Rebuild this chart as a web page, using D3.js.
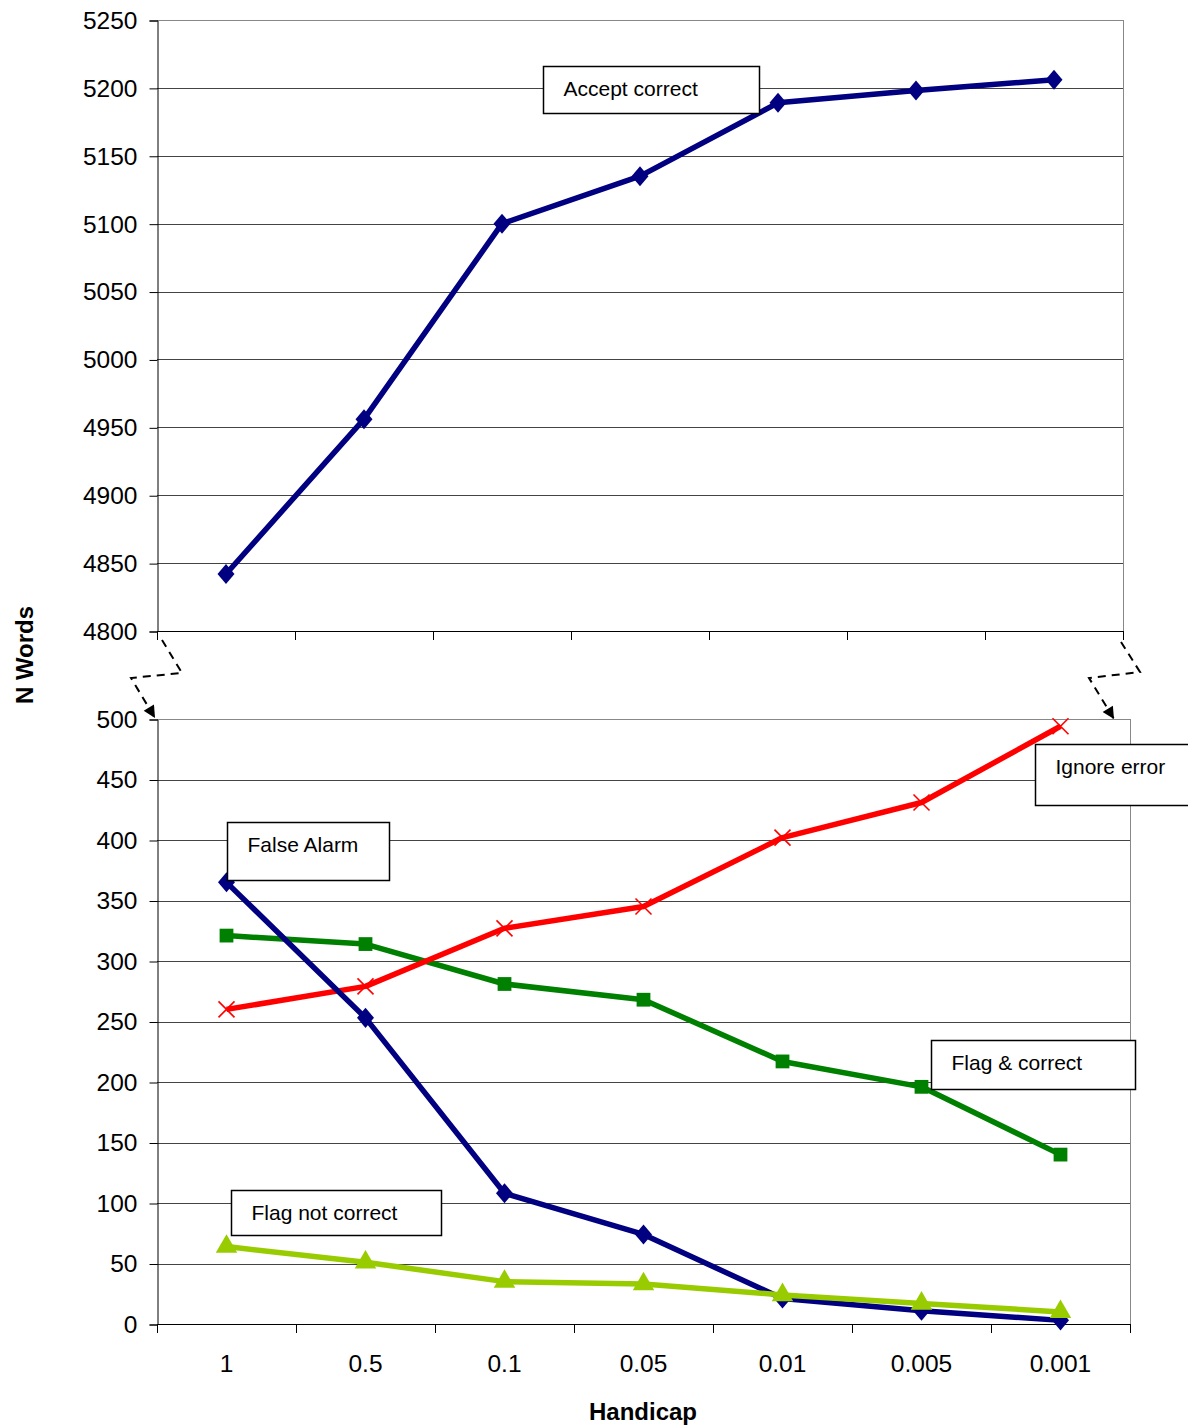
<!DOCTYPE html>
<html>
<head>
<meta charset="utf-8">
<script src="https://cdn.jsdelivr.net/npm/d3@7"></script>
<style>
 body { margin: 0; background: #fff; }
 text { font-family: "Liberation Sans", Arial, sans-serif; }
</style>
</head>
<body>
<div id="chart"></div>
<script>
// categories (handicap values)
var handicaps = ['1', '0.5', '0.1', '0.05', '0.01', '0.005', '0.001'];

// series values
var acceptCorrect   = [4842, 4956, 5100, 5135, 5189, 5198, 5206];
var falseAlarm      = [365, 253, 108, 74, 21, 11, 3];
var flagCorrect     = [321, 314, 281, 268, 217, 196, 140];
var ignoreError     = [260, 279, 327, 345, 402, 431, 494];
var flagNotCorrect  = [64, 51, 35, 33, 24, 17, 10];

// tick labels
var topTicks = [4800, 4850, 4900, 4950, 5000, 5050, 5100, 5150, 5200, 5250];
var bottomTicks = [0, 50, 100, 150, 200, 250, 300, 350, 400, 450, 500];

var W = 1188, H = 1428;
var svg = d3.select('#chart').append('svg')
 .attr('width', W).attr('height', H);

// two panels: top (broken axis, large values) and bottom (small values)
var topP = {left: 157, right: 1123, top: 20, bottom: 631};
var botP = {left: 157, right: 1130, top: 719, bottom: 1324};

var xTop = d3.scaleBand().domain(handicaps).range([topP.left, topP.right]);
var xBot = d3.scaleBand().domain(handicaps).range([botP.left, botP.right]);
var yTop = d3.scaleLinear().domain([4800, 5250]).range([topP.bottom, topP.top]);
var yBot = d3.scaleLinear().domain([0, 500]).range([botP.bottom, botP.top]);

function drawFrame(p, x, y, ticks)
{
 var g = svg.append('g');
 // gridlines
 g.selectAll('line.grid').data(ticks).enter().append('line')
  .attr('x1', p.left).attr('x2', p.right)
  .attr('y1', function(d){ return Math.round(y(d)) + 0.5; })
  .attr('y2', function(d){ return Math.round(y(d)) + 0.5; })
  .attr('stroke', function(d, i){ return i == ticks.length - 1 ? '#888' : '#444'; })
  .attr('stroke-width', 1);
 // right border
 g.append('line').attr('x1', p.right + 0.5).attr('x2', p.right + 0.5)
  .attr('y1', p.top).attr('y2', p.bottom).attr('stroke', '#888');
 // y axis
 var ya = svg.append('g').attr('transform', 'translate(' + (p.left + 0.5) + ',0.5)')
  .call(d3.axisLeft(y).tickValues(ticks).tickSize(8).tickPadding(12).tickFormat(d3.format('d')));
 ya.selectAll('text').style('font-size', '24.5px').attr('fill', '#000');
 ya.selectAll('line,path').attr('stroke', '#000');
 // x axis: tick marks at band edges
 var edges = x.domain().map(function(d){ return x(d); }).concat([p.right]);
 g.append('line').attr('x1', p.left).attr('x2', p.right)
  .attr('y1', p.bottom + 0.5).attr('y2', p.bottom + 0.5).attr('stroke', '#000');
 g.selectAll('line.xt').data(edges).enter().append('line')
  .attr('x1', function(d){ return Math.round(d) + 0.5; })
  .attr('x2', function(d){ return Math.round(d) + 0.5; })
  .attr('y1', p.bottom).attr('y2', p.bottom + 9).attr('stroke', '#000');
}

drawFrame(topP, xTop, yTop, topTicks);
drawFrame(botP, xBot, yBot, bottomTicks);

// x tick labels under bottom panel
svg.append('g').selectAll('text').data(handicaps).enter().append('text')
 .attr('x', function(d){ return xBot(d) + xBot.bandwidth() / 2; })
 .attr('y', 1372)
 .attr('text-anchor', 'middle')
 .style('font-size', '24.5px')
 .text(function(d){ return d; });

// axis titles
svg.append('text').attr('x', 643).attr('y', 1420).attr('text-anchor', 'middle')
 .style('font-size', '24px').style('font-weight', 'bold').text('Handicap');
svg.append('text').attr('transform', 'translate(33,655) rotate(-90)').attr('text-anchor', 'middle')
 .style('font-size', '24px').style('font-weight', 'bold').text('N Words');

// axis break marks (dashed lines with arrow)
svg.append('defs').append('marker').attr('id', 'arr')
 .attr('viewBox', '0 0 10 10').attr('refX', 10).attr('refY', 5)
 .attr('markerWidth', 7).attr('markerHeight', 6).attr('orient', 'auto')
 .append('path').attr('d', 'M0,0L10,5L0,10Z').attr('fill', '#000');
var breaks = [
 [[162, 640], [182, 673], [131, 678], [155, 718]],
 [[1121, 642], [1140, 672], [1089, 678], [1114, 719]]
];
svg.selectAll('path.brk').data(breaks).enter().append('path')
 .attr('d', d3.line())
 .attr('fill', 'none').attr('stroke', '#000').attr('stroke-width', 2)
 .attr('stroke-dasharray', '8,6')
 .attr('marker-end', 'url(#arr)');

// series
function drawSeries(vals, x, y, color, shape, size)
{
 var pts = vals.map(function(v, i){ return [x(handicaps[i]) + x.bandwidth() / 2, y(v)]; });
 svg.append('path').datum(pts).attr('d', d3.line())
  .attr('fill', 'none').attr('stroke', color).attr('stroke-width', 5.5)
  .attr('stroke-linejoin', 'round');
 var g = svg.append('g');
 if(shape == 'x')
 {
  pts.forEach(function(p){
   g.append('path').attr('d', 'M' + (p[0]-8) + ',' + (p[1]-8) + 'L' + (p[0]+8) + ',' + (p[1]+8) +
    'M' + (p[0]-8) + ',' + (p[1]+8) + 'L' + (p[0]+8) + ',' + (p[1]-8))
    .attr('stroke', color).attr('stroke-width', 1.6);
  });
 }
 else
 {
  var sym = d3.symbol().type(shape).size(size);
  g.selectAll('path').data(pts).enter().append('path')
   .attr('d', sym)
   .attr('transform', function(p){ return 'translate(' + p[0] + ',' + p[1] + ')' + (shape == d3.symbolDiamond ? ' scale(1.25,0.85)' : ''); })
   .attr('fill', color);
 }
}

drawSeries(acceptCorrect, xTop, yTop, '#000080', d3.symbolDiamond, 160);
drawSeries(flagCorrect, xBot, yBot, '#008000', d3.symbolSquare, 190);
drawSeries(ignoreError, xBot, yBot, '#FF0000', 'x', 0);
drawSeries(falseAlarm, xBot, yBot, '#000080', d3.symbolDiamond, 160);
drawSeries(flagNotCorrect, xBot, yBot, '#99CC00', d3.symbolTriangle, 200);

// labels in boxes
var labels = [
 {t: 'Accept correct', x: 543, y: 66, w: 216, h: 47},
 {t: 'False Alarm', x: 227, y: 822, w: 162, h: 58},
 {t: 'Ignore error', x: 1035, y: 744, w: 160, h: 61},
 {t: 'Flag & correct', x: 931, y: 1040, w: 204, h: 49},
 {t: 'Flag not correct', x: 231, y: 1190, w: 210, h: 45}
];
var lg = svg.selectAll('g.lbl').data(labels).enter().append('g')
 .attr('transform', function(d){ return 'translate(' + d.x + ',' + d.y + ')'; });
lg.append('rect').attr('x', 0.5).attr('y', 0.5)
 .attr('width', function(d){ return d.w; }).attr('height', function(d){ return d.h; })
 .attr('fill', '#fff').attr('stroke', '#000').attr('stroke-width', 1.5);
lg.append('text').attr('x', 20.5).attr('y', 30)
 .style('font-size', '21px').text(function(d){ return d.t; });
</script>
</body>
</html>
